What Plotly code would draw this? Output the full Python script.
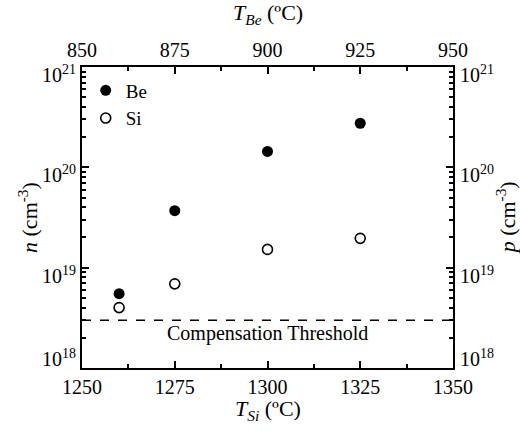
import math
import plotly.graph_objects as go

t_si = [1260, 1275, 1300, 1325]
be_conc = [5.5e18, 3.7e19, 1.44e20, 2.75e20]
si_conc = [4.0e18, 6.9e18, 1.52e19, 1.96e19]
threshold = 3.0e18
x_range = [1250, 1350]
x_top_range = [850, 950]
x_ticks = [1250, 1275, 1300, 1325, 1350]
x_top_ticks = [850, 875, 900, 925, 950]
y_ticks = [1e18, 1e19, 1e20, 1e21]
y_ticktext = ["10<sup>18</sup>", "10<sup>19</sup>", "10<sup>20</sup>", "10<sup>21</sup>"]

FONT = "Times New Roman"
fig = go.Figure()

fig.add_trace(go.Scatter(x=x_range, y=[threshold, threshold], mode="lines",
                         line=dict(color="black", width=1.5, dash="dash"),
                         showlegend=False, hoverinfo="skip"))
fig.add_trace(go.Scatter(x=t_si, y=be_conc, mode="markers", name="Be",
                         marker=dict(symbol="circle", size=11, color="black")))
fig.add_trace(go.Scatter(x=t_si, y=si_conc, mode="markers", name="Si",
                         marker=dict(symbol="circle-open", size=10, color="black",
                                     line=dict(width=1.6, color="black"))))
# invisible trace for top/right axes
fig.add_trace(go.Scatter(x=x_top_range, y=[1e18, 1e21], xaxis="x2", yaxis="y2",
                         mode="markers", marker=dict(opacity=0), showlegend=False,
                         hoverinfo="skip"))

fig.add_annotation(x=sum(x_range) / 2, y=math.log10(threshold), yref="y", xref="x",
                   text="Compensation Threshold", showarrow=False,
                   yanchor="top", yshift=0,
                   font=dict(family=FONT, size=20, color="black"))

title_font = dict(family=FONT, size=22, color="black")
fig.add_annotation(xref="paper", yref="paper", x=0.5, y=-0.14, text="<i>T<sub>Si</sub></i> (ºC)",
                   showarrow=False, xanchor="center", yanchor="middle", font=title_font)
fig.add_annotation(xref="paper", yref="paper", x=0.5, y=1.175, text="<i>T<sub>Be</sub></i> (ºC)",
                   showarrow=False, xanchor="center", yanchor="middle", font=title_font)
fig.add_annotation(xref="paper", yref="paper", x=-0.147, y=0.5, text="<i>n</i> (cm<sup>-3</sup>)",
                   showarrow=False, xanchor="center", yanchor="middle", textangle=-90,
                   font=title_font)
fig.add_annotation(xref="paper", yref="paper", x=1.142, y=0.5, text="<i>p</i> (cm<sup>-3</sup>)",
                   showarrow=False, xanchor="center", yanchor="middle", textangle=-90,
                   font=title_font)

# y tick labels (left and right), nudged like the reference: lowest label sits above its tick
tick_font = dict(family=FONT, size=20, color="black")
for i, (v, txt) in enumerate(zip(y_ticks, y_ticktext)):
    shift = 10 if i == 0 else -7
    fig.add_annotation(xref="paper", yref="y", x=0, y=math.log10(v), text=txt,
                       showarrow=False, xanchor="right", yanchor="middle",
                       xshift=-4, yshift=shift, font=tick_font)
    fig.add_annotation(xref="paper", yref="y", x=1, y=math.log10(v), text=txt,
                       showarrow=False, xanchor="left", yanchor="middle",
                       xshift=5, yshift=shift, font=tick_font)

axis_common = dict(showgrid=False, zeroline=False, showline=True, linecolor="black",
                   linewidth=2, ticks="inside", tickcolor="black", tickwidth=1.5,
                   automargin=False,
                   tickfont=dict(family=FONT, size=20, color="black"))

fig.update_layout(
    width=520, height=434,
    margin=dict(l=82, r=67, t=67, b=66),
    plot_bgcolor="white", paper_bgcolor="white",
    font=dict(family=FONT, color="black"),
    xaxis=dict(range=x_range, tickvals=x_ticks, ticklen=7,
               minor=dict(ticks="inside", ticklen=4, dtick=12.5, tick0=1250,
                          tickcolor="black", tickwidth=1.5),
               **axis_common),
    xaxis2=dict(range=x_top_range, tickvals=x_top_ticks, overlaying="x", side="top",
                anchor="y", ticklen=7,
                minor=dict(ticks="inside", ticklen=4, dtick=12.5, tick0=850,
                           tickcolor="black", tickwidth=1.5),
                **axis_common),
    yaxis=dict(type="log", range=[18, 21], tickvals=y_ticks, showticklabels=False,
               ticklen=7,
               minor=dict(ticks="inside", ticklen=4, dtick="D1",
                          tickcolor="black", tickwidth=1.5),
               **axis_common),
    yaxis2=dict(type="log", range=[18, 21], tickvals=y_ticks, showticklabels=False,
                overlaying="y", side="right", anchor="x", ticklen=7,
                minor=dict(ticks="inside", ticklen=4, dtick="D1",
                           tickcolor="black", tickwidth=1.5),
                **axis_common),
    legend=dict(x=0.01, y=0.985, xanchor="left", yanchor="top",
                bgcolor="rgba(0,0,0,0)", font=dict(family=FONT, size=19),
                itemwidth=30, tracegroupgap=0),
)

fig.write_html("out.html")
